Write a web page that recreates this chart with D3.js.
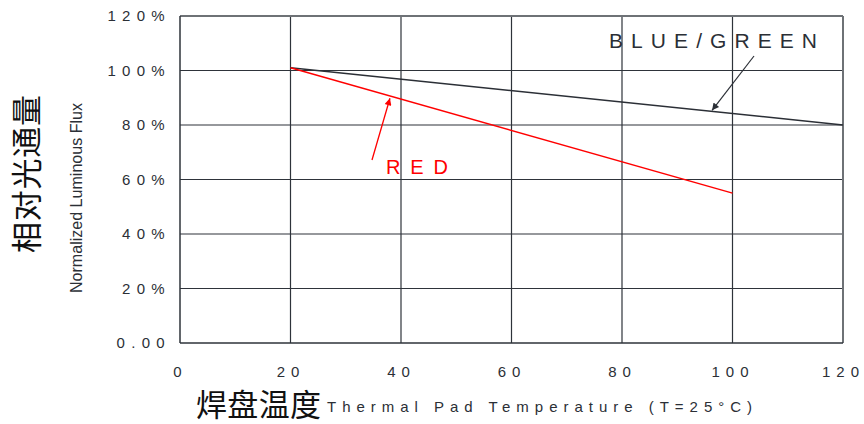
<!DOCTYPE html>
<html>
<head>
<meta charset="utf-8">
<script src="https://cdn.jsdelivr.net/npm/d3@7"></script>
<style>
  html, body { margin: 0; padding: 0; background: #fff; }
  svg { display: block; }
</style>
</head>
<body>
<svg id="chart" width="864" height="424"></svg>
<script>
// Relative luminous flux vs. thermal pad temperature
const xTicks = [0, 20, 40, 60, 80, 100, 120];
const yTicks = [0, 20, 40, 60, 80, 100, 120];
const yTickLabels = ["0.00", "20%", "40%", "60%", "80%", "100%", "120%"];

const blueGreenTemp = [20, 120];
const blueGreenFlux = [101, 80];
const redTemp = [20, 100];
const redFlux = [101, 55];

const svg = d3.select("#chart");
const margin = { left: 180, right: 21, top: 16, bottom: 81 };
const W = 864, H = 424;

const x = d3.scaleLinear().domain([0, 120]).range([margin.left, W - margin.right]);
const y = d3.scaleLinear().domain([0, 120]).range([H - margin.bottom, margin.top]);

const font = "Liberation Sans, Arial, sans-serif";
const textColor = "#2b2f36";

// grid
const grid = svg.append("g");
grid.selectAll("line.v").data(xTicks.slice(1, -1)).join("line")
  .attr("x1", d => x(d)).attr("x2", d => x(d))
  .attr("y1", y(0)).attr("y2", y(120))
  .attr("stroke", "#2e333a").attr("stroke-width", 1.2);
grid.selectAll("line.h").data(yTicks.slice(1, -1)).join("line")
  .attr("x1", x(0)).attr("x2", x(120))
  .attr("y1", d => y(d)).attr("y2", d => y(d))
  .attr("stroke", "#2e333a").attr("stroke-width", 1.2);

// frame
svg.append("line").attr("x1", x(0)).attr("x2", x(120)).attr("y1", y(120)).attr("y2", y(120))
  .attr("stroke", "#6e7276").attr("stroke-width", 2);
svg.append("line").attr("x1", x(120)).attr("x2", x(120)).attr("y1", y(120)).attr("y2", y(0))
  .attr("stroke", "#6e7276").attr("stroke-width", 2);
svg.append("line").attr("x1", x(0)).attr("x2", x(0)).attr("y1", y(120)).attr("y2", y(0))
  .attr("stroke", "#2e333a").attr("stroke-width", 1.5);
svg.append("line").attr("x1", x(0)).attr("x2", x(120)).attr("y1", y(0)).attr("y2", y(0))
  .attr("stroke", "#2e333a").attr("stroke-width", 1.5);

// y tick labels
svg.append("g").selectAll("text").data(yTicks).join("text")
  .attr("x", 171).attr("y", d => y(d)).attr("dy", "0.36em")
  .attr("text-anchor", "end")
  .attr("font-family", font).attr("font-size", 15)
  .attr("letter-spacing", 6.3)
  .attr("fill", textColor)
  .text((d, i) => yTickLabels[i]);

// x tick labels
svg.append("g").selectAll("text").data(xTicks).join("text")
  .attr("x", d => x(d) + 0.5).attr("y", 377)
  .attr("text-anchor", "middle")
  .attr("font-family", font).attr("font-size", 15)
  .attr("letter-spacing", 6)
  .attr("fill", textColor)
  .text(d => d);

// series
const line = d3.line().x(d => x(d[0])).y(d => y(d[1]));
svg.append("path")
  .datum(blueGreenTemp.map((t, i) => [t, blueGreenFlux[i]]))
  .attr("d", line).attr("fill", "none")
  .attr("stroke", "#2b2f36").attr("stroke-width", 1.5);
svg.append("path")
  .datum(redTemp.map((t, i) => [t, redFlux[i]]))
  .attr("d", line).attr("fill", "none")
  .attr("stroke", "#ff0000").attr("stroke-width", 1.5);

// arrow markers
const defs = svg.append("defs");
function marker(id, color) {
  defs.append("marker").attr("id", id)
    .attr("viewBox", "0 0 10 10").attr("refX", 10).attr("refY", 5)
    .attr("markerWidth", 15).attr("markerHeight", 7)
    .attr("markerUnits", "userSpaceOnUse")
    .attr("orient", "auto")
    .append("path").attr("d", "M0,0 L10,5 L0,10 Z").attr("fill", color);
}
marker("arrowRed", "#ff0000");
marker("arrowDark", "#2b2f36");

// annotations
svg.append("line")
  .attr("x1", 372).attr("y1", 160).attr("x2", x(38)).attr("y2", y(89.8))
  .attr("stroke", "#ff0000").attr("stroke-width", 1.3)
  .attr("marker-end", "url(#arrowRed)");
svg.append("text").attr("x", 386).attr("y", 174)
  .attr("font-family", font).attr("font-size", 20)
  .attr("textLength", 62).attr("lengthAdjust", "spacing")
  .attr("fill", "#ff0000").text("RED");

svg.append("line")
  .attr("x1", 754).attr("y1", 56).attr("x2", x(96.3)).attr("y2", y(85.4))
  .attr("stroke", "#2b2f36").attr("stroke-width", 1.2)
  .attr("marker-end", "url(#arrowDark)");
svg.append("text").attr("x", 609).attr("y", 48)
  .attr("font-family", font).attr("font-size", 21)
  .attr("textLength", 208).attr("lengthAdjust", "spacing")
  .attr("fill", textColor).text("BLUE/GREEN");

// axis titles
svg.append("text").attr("x", 196).attr("y", 416)
  .attr("font-family", "Noto Sans CJK SC, sans-serif").attr("font-size", 31)
  .attr("textLength", 125).attr("lengthAdjust", "spacing")
  .attr("fill", "#111").text("焊盘温度");
svg.append("text").attr("x", 327).attr("y", 412)
  .attr("font-family", font).attr("font-size", 15)
  .attr("textLength", 425).attr("lengthAdjust", "spacing")
  .attr("fill", textColor).text("Thermal Pad Temperature (T=25°C)");

svg.append("text")
  .attr("transform", "translate(38,174) rotate(-90)")
  .attr("text-anchor", "middle")
  .attr("font-family", "Noto Sans CJK SC, sans-serif").attr("font-size", 31)
  .attr("textLength", 158).attr("lengthAdjust", "spacing")
  .attr("fill", "#111").text("相对光通量");
svg.append("text")
  .attr("transform", "translate(82,198) rotate(-90)")
  .attr("text-anchor", "middle")
  .attr("font-family", "Liberation Sans Narrow, Liberation Sans, Arial, sans-serif").attr("font-size", 17)
  .attr("textLength", 190).attr("lengthAdjust", "spacingAndGlyphs")
  .attr("fill", textColor).text("Normalized Luminous Flux");
</script>
</body>
</html>
